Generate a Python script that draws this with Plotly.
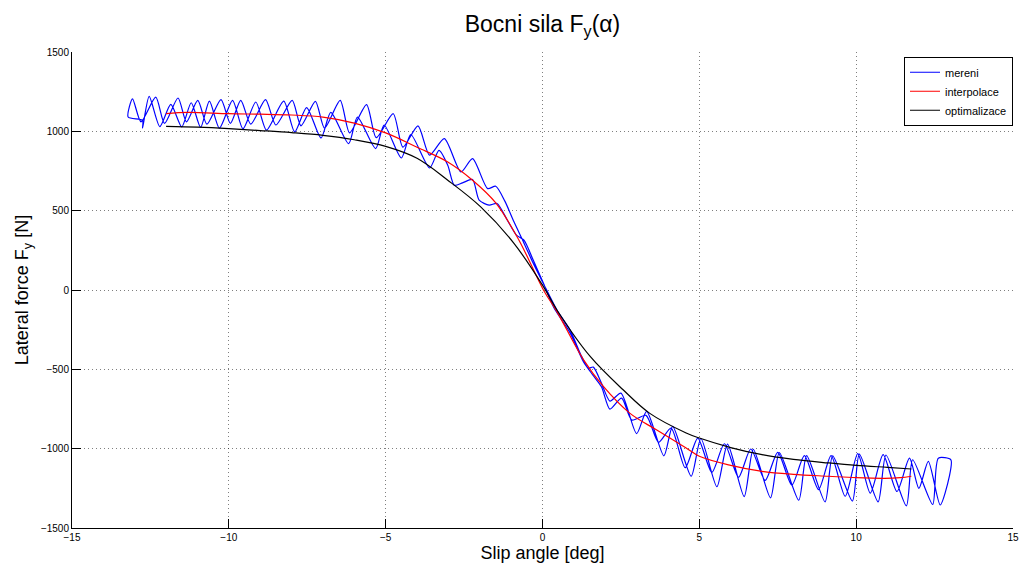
import plotly.graph_objects as go

# ---- measured data (mereni): pass A left->right, pass B right->left ----
passA_x = [-13.21, -13.07, -12.80, -12.33, -12.05, -11.62, -11.35, -10.99, -10.70, -10.25,
           -9.95, -9.62, -9.30, -8.83, -8.50, -7.98, -7.70, -7.24, -6.95, -6.45,
           -6.15, -5.61, -5.30, -4.76, -4.45, -3.97, -3.60, -3.13, -2.60, -2.23,
           -1.75, -1.49, -1.20, -0.91, -0.60, -0.30, 0.03, 0.46, 0.88, 1.25,
           1.46, 1.62, 1.88, 2.15, 2.50, 3.00, 3.32, 3.87, 4.15, 4.74,
           5.05, 5.56, 5.90, 6.43, 6.72, 7.27, 7.55, 8.17, 8.42, 9.01,
           9.25, 9.88, 10.10, 10.70, 10.95, 11.60, 11.80, 12.44, 12.62, 13.02]
passA_y = [1090, 1205, 1060, 1215, 1050, 1210, 1060, 1195, 1045, 1200,
           1050, 1195, 1045, 1200, 1040, 1195, 1035, 1189, 1020, 1195,
           990, 1168, 960, 1111, 900, 1034, 850, 954, 744, 828,
           639, 654, 560, 430, 300, 170, 40, -126, -252, -420,
           -492, -486, -587, -700, -650, -905, -765, -1045, -860, -1174,
           -936, -1240, -972, -1302, -1004, -1310, -1025, -1325, -1044, -1335,
           -1046, -1330, -1035, -1335, -1040, -1360, -1070, -1352, -1060, -1070]

passB_x = [12.97, 12.68, 12.30, 12.00, 11.70, 11.30, 10.86, 10.45, 10.05, 9.65,
           9.20, 8.80, 8.35, 7.95, 7.50, 7.10, 6.64, 6.25, 5.80, 5.40,
           4.95, 4.55, 4.10, 3.70, 3.30, 2.85, 2.52, 2.15, 1.88, 1.62,
           1.30, 0.88, 0.36, 0.03, -0.30, -0.59, -0.83, -1.12, -1.45, -1.70,
           -2.02, -2.23, -2.55, -2.81, -3.02, -3.30, -3.60, -4.20, -4.50, -5.05,
           -5.32, -5.90, -6.18, -6.75, -7.06, -7.52, -7.90, -8.25, -8.80, -9.14,
           -9.55, -9.88, -10.30, -10.62, -10.90, -11.20, -11.50, -11.85, -12.20, -12.54,
           -12.75, -12.75, -13.21]
passB_y = [-1175, -1355, -1080, -1250, -1060, -1270, -1038, -1280, -1031, -1300,
           -1044, -1258, -1044, -1230, -1023, -1200, -1002, -1180, -969, -1150,
           -933, -1120, -870, -960, -790, -820, -681, -751, -610, -540,
           -450, -270, -110, 42, 190, 314, 346, 440, 545, 535,
           566, 696, 675, 660, 786, 880, 769, 980, 832, 1040,
           891, 1090, 922, 1120, 958, 1150, 996, 1190, 1008, 1185,
           1015, 1195, 1020, 1190, 1025, 1180, 1028, 1170, 1030, 1220,
           1021, 1069, 1090]

# ---- interpolation (interpolace) ----
interp_x = [-12.0, -11.3, -10.0, -9.0, -8.0, -7.0, -6.0, -5.0, -4.0, -3.02, -2.23, -1.49,
            -0.75, 0.03, 0.46, 1.31, 1.94, 2.78, 3.63, 4.58, 5.0, 6.0, 7.0, 8.0, 9.12,
            10.0, 10.9, 11.4, 11.76]
interp_y = [1112, 1120, 1111, 1108, 1103, 1090, 1052, 990, 900, 807, 692, 549,
            314, 0, -136, -440, -608, -776, -881, -996, -1048, -1105, -1143, -1162, -1174,
            -1183, -1187, -1183, -1174]

# ---- optimisation (optimalizace) ----
optim_x = [-12.0, -11.0, -10.0, -9.0, -8.0, -7.0, -6.0, -5.0, -4.0, -3.02, -1.97, -0.91,
           0.03, 0.46, 1.52, 2.57, 3.41, 4.58, 5.0, 6.0, 7.0, 8.0, 9.12, 10.0, 11.0, 11.76]
optim_y = [1031, 1026, 1017, 1005, 992, 975, 947, 905, 830, 692, 524, 294,
           21, -126, -419, -629, -776, -901, -933, -993, -1038, -1068, -1090, -1105, -1118, -1128]

x_ticks = [-15, -10, -5, 0, 5, 10, 15]
y_ticks = [-1500, -1000, -500, 0, 500, 1000, 1500]

FONT = "Liberation Sans, Arial, Helvetica, sans-serif"

mereni_x = passA_x + passB_x
mereni_y = passA_y + passB_y

fig = go.Figure()
fig.add_trace(go.Scatter(x=mereni_x, y=mereni_y, mode="lines", name="mereni",
                         line=dict(color="#0000ff", width=1.2, shape="spline", smoothing=0.7)))
fig.add_trace(go.Scatter(x=interp_x, y=interp_y, mode="lines", name="interpolace",
                         line=dict(color="#ff0000", width=1.2, shape="spline")))
fig.add_trace(go.Scatter(x=optim_x, y=optim_y, mode="lines", name="optimalizace",
                         line=dict(color="#000000", width=1.2, shape="spline")))

axis_common = dict(
    showgrid=True, gridcolor="rgba(0,0,0,0.5)", griddash="1px,3px", gridwidth=1,
    zeroline=False, showline=True, linecolor="black", linewidth=1,
    ticks="inside", ticklen=9, tickcolor="black", tickwidth=1,
    tickfont=dict(family=FONT, size=10, color="black"),
)

fig.update_layout(
    width=1030, height=570,
    margin=dict(l=72, r=11, t=52, b=42),
    paper_bgcolor="white", plot_bgcolor="white",
    font=dict(family=FONT, color="black"),
    title=dict(text="Bocni sila F<sub>y</sub>(α)", x=0.5, xref="paper", xanchor="center",
               y=0.958, yref="container", yanchor="middle",
               font=dict(family=FONT, size=23, color="black")),
    xaxis=dict(range=[-15, 15], tickvals=x_ticks,
               title=dict(text="Slip angle [deg]", font=dict(family=FONT, size=18), standoff=2),
               **axis_common),
    yaxis=dict(range=[-1500, 1500], tickvals=y_ticks,
               title=dict(text="Lateral force F<sub>y</sub> [N]", font=dict(family=FONT, size=18), standoff=7),
               **axis_common),
    legend=dict(x=1.0, y=0.99, xanchor="right", yanchor="top",
                bordercolor="black", borderwidth=1, bgcolor="white",
                font=dict(family=FONT, size=11, color="black"),
                tracegroupgap=0, itemwidth=30),
    showlegend=True,
)

fig.write_html("out.html")
